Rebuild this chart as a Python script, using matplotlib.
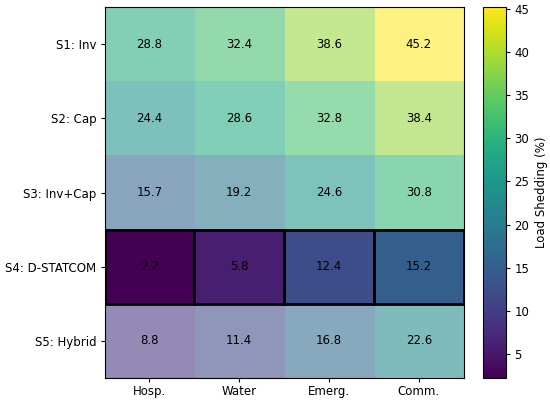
import numpy as np
import matplotlib
matplotlib.use("Agg")
import matplotlib.pyplot as plt
from matplotlib.patches import Rectangle

scenarios = ["S1: Inv", "S2: Cap", "S3: Inv+Cap", "S4: D-STATCOM", "S5: Hybrid"]
loads = ["Hosp.", "Water", "Emerg.", "Comm."]
shedding = np.array([
    [28.8, 32.4, 38.6, 45.2],
    [24.4, 28.6, 32.8, 38.4],
    [15.7, 19.2, 24.6, 30.8],
    [2.2, 5.8, 12.4, 15.2],
    [8.8, 11.4, 16.8, 22.6],
])
best_row = 3

fig = plt.figure(figsize=(5.5, 4), dpi=100)
ax = fig.add_axes([0.19, 0.055, 0.653, 0.927])
cax = fig.add_axes([0.878, 0.055, 0.042, 0.927])

alpha = np.full(shedding.shape, 0.58)
alpha[best_row, :] = 1.0
im = ax.imshow(shedding, cmap="viridis", aspect="auto", alpha=alpha,
               vmin=shedding.min(), vmax=shedding.max())

for i in range(shedding.shape[0]):
    for j in range(shedding.shape[1]):
        ax.text(j, i, f"{shedding[i, j]:.1f}", ha="center", va="center",
                fontsize=8.5, color="black")

# highlight best scenario
for j in range(shedding.shape[1]):
    ax.add_patch(Rectangle((j - 0.5, best_row - 0.5), 1, 1, fill=False,
                           edgecolor="black", linewidth=2))

ax.set_xticks(range(len(loads)))
ax.set_xticklabels(loads, fontsize=8.5)
ax.set_yticks(range(len(scenarios)))
ax.set_yticklabels(scenarios, fontsize=8.5)
ax.tick_params(axis="x", length=3, pad=2)
ax.tick_params(axis="y", length=3, pad=3)

sm = plt.cm.ScalarMappable(cmap="viridis", norm=im.norm)
cb = fig.colorbar(sm, cax=cax)
cb.set_label("Load Shedding (%)", fontsize=8.5)
cb.ax.tick_params(labelsize=8.5, length=3, pad=3)

fig.savefig("out.png")
